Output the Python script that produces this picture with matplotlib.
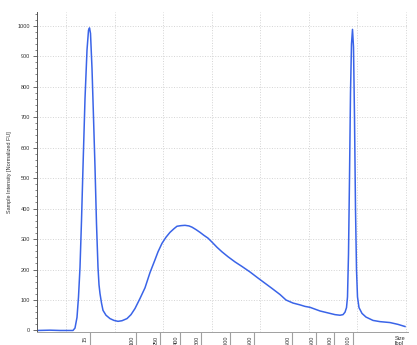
import numpy as np
import matplotlib
matplotlib.use('Agg')
import matplotlib.pyplot as plt
from matplotlib.ticker import MultipleLocator
from matplotlib.transforms import blended_transform_factory

plt.rcParams['font.family'] = ['Liberation Sans', 'DejaVu Sans']

# electropherogram trace: migration position (arb. units) vs intensity
migration = [37, 50, 60, 70, 73, 75, 77, 78.5, 80, 81.5, 83, 85, 87, 88.5, 89.5, 90.5,
             92, 93.5, 95, 96.5, 98, 99, 100, 101.5, 103, 106, 110, 114, 118, 122, 127,
             131, 135, 140, 145, 150, 155, 158, 162, 166, 170, 174, 177, 181, 185, 189,
             192, 196, 200, 204, 208, 212, 217, 222, 228, 235, 242, 250, 258, 265, 272,
             280, 286, 293, 300, 305, 310, 315, 320, 325, 330, 335, 340, 343, 345, 346.5,
             347.5, 348.5, 349.5, 350.5, 351.5, 352.5, 353.5, 354.5, 355.5, 356.5, 357.5,
             359, 362, 366, 373, 380, 390, 398, 405]
intensity = [0, 1, 0, 0, 0, 8, 43, 110, 207, 360, 536, 760, 920, 985, 993, 975,
             860, 700, 536, 350, 207, 150, 121, 90, 66, 50, 39, 33, 30, 32, 39,
             52, 72, 105, 140, 190, 232, 258, 286, 306, 322, 334, 342, 344, 345, 343,
             339, 331, 322, 312, 303, 290, 273, 258, 242, 225, 210, 192, 172, 155, 138,
             118, 100, 90, 84, 79, 76, 70, 64, 60, 56, 52, 50, 52, 60, 75,
             110, 250, 500, 780, 940, 988, 930, 700, 400, 200, 110,
             75, 56, 44, 33, 29, 26, 20, 13]

# ladder sizes and their positions
ladder_pos = [89.5, 136, 160, 180, 201, 230, 254, 292, 316, 334, 352.5]
ladder_bp = ['15', '100', '250', '400', '600', '1000', '1500', '2500', '3500', '5000', '10000']

grid_pos = [66, 114.5, 163, 211.5, 260, 308.5, 357, 405.5]

fig = plt.figure(figsize=(4.17, 3.45), dpi=100)
ax = fig.add_axes([37/417, 13/345, 371/417, 320/345])

ax.plot(migration, intensity, color='#3a64e8', lw=1.1)

ax.set_xlim(37, 408)
ax.set_ylim(-5, 1045)

# gridlines
for g in grid_pos:
    ax.axvline(g, color='#d4d4d4', ls=':', lw=0.7, zorder=0)
for h in range(100, 1001, 100):
    ax.axhline(h, color='#d4d4d4', ls=':', lw=0.7, zorder=0)

ax.yaxis.set_major_locator(MultipleLocator(100))
ax.yaxis.set_minor_locator(MultipleLocator(20))
ax.tick_params(axis='y', which='major', labelsize=4, length=3, width=0.6,
               colors='#555555', pad=2)
ax.tick_params(axis='y', which='minor', length=1.5, width=0.5, colors='#555555')
for lab in ax.get_yticklabels():
    lab.set_color('#333333')

ax.set_xticks(ladder_pos)
ax.set_xticklabels([])
ax.tick_params(axis='x', length=14, width=0.8, colors='#a0a0a0', direction='out')

# ladder labels sit beside the tick lines (clipped by the bottom edge, as in the source)
trans = blended_transform_factory(ax.transData, ax.transAxes)
for p, lab in zip(ladder_pos, ladder_bp):
    ax.text(p - 1.5, -0.012, lab, transform=trans, rotation=90, ha='right',
            va='top', fontsize=4, color='#333333', clip_on=False)

for s in ['top', 'right']:
    ax.spines[s].set_visible(False)
ax.spines['left'].set_color('#555555')
ax.spines['left'].set_linewidth(0.7)
ax.spines['bottom'].set_color('#a0a0a0')
ax.spines['bottom'].set_linewidth(0.7)

ax.set_ylabel('Sample Intensity [Normalized FU]', fontsize=4, color='#333333')
ax.yaxis.set_label_coords(-0.067, 0.5)

fig.text(395/417, 1 - 336/345, 'Size\n[bp]', fontsize=4, color='#333333',
         ha='left', va='top', linespacing=1.1)

fig.savefig('out.png', dpi=100)
